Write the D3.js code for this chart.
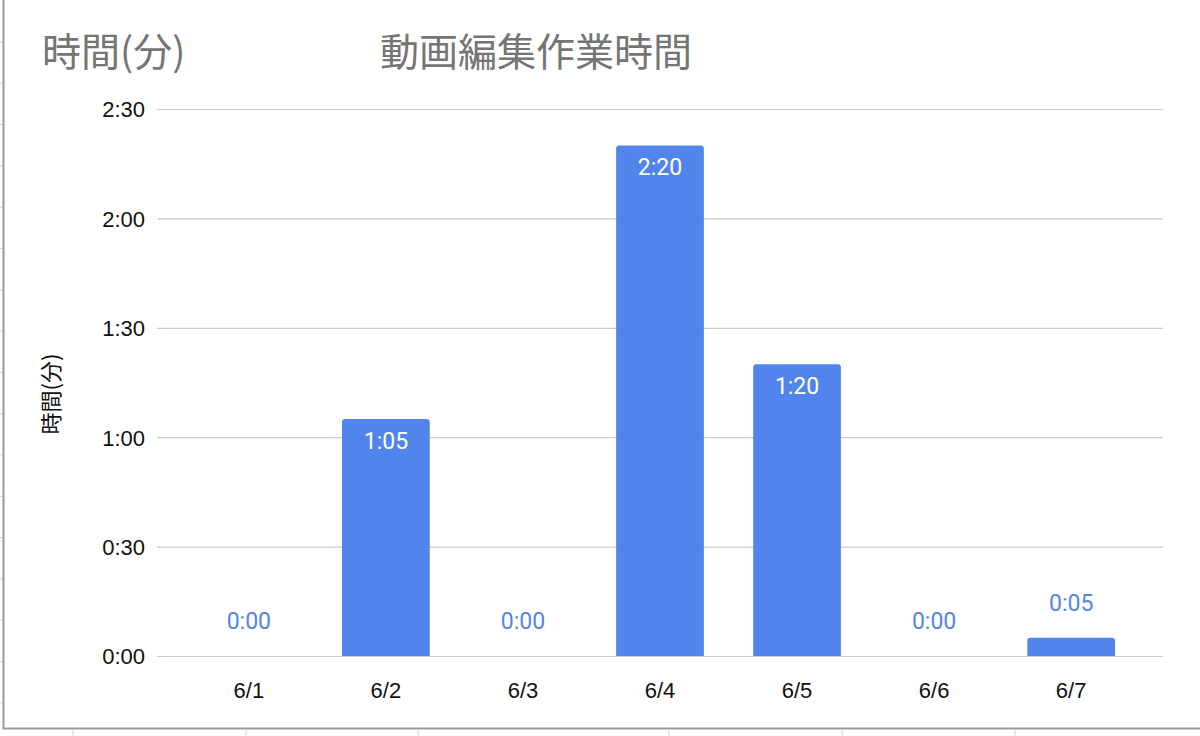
<!DOCTYPE html>
<html>
<head>
<meta charset="utf-8">
<script src="https://cdn.jsdelivr.net/npm/d3@7"></script>
<style>
  body { margin: 0; background: #fff; }
  svg { display: block; }
</style>
</head>
<body>
<div id="chart"></div>
<script>
// data: minutes of video editing per day
var days = ["6/1", "6/2", "6/3", "6/4", "6/5", "6/6", "6/7"]
var minutes = [0, 65, 0, 140, 80, 0, 5]
var tickValues = [0, 30, 60, 90, 120, 150]
var tickLabels = ["0:00", "0:30", "1:00", "1:30", "2:00", "2:30"]

var W = 1200, H = 736
var margin = {top: 109, right: 37, bottom: 80, left: 157}
var width = W - margin.left - margin.right,
    height = 656 - margin.top

var jp = "'Noto Sans CJK JP', 'Noto Sans', sans-serif"
var num = "'Liberation Sans', Arial, sans-serif"
var barColor = "#5185ec"

function fmt(m) {
  var h = Math.floor(m / 60), mm = m % 60
  return h + ":" + (mm < 10 ? "0" : "") + mm
}

var svg = d3.select("#chart")
  .append("svg")
    .attr("width", W)
    .attr("height", H)

// spreadsheet cell lines behind the chart
svg.append("g")
  .selectAll("line")
  .data(d3.range(42, 710, 41.3))
  .enter()
  .append("line")
    .attr("x1", 0).attr("x2", 3)
    .attr("y1", function(d){ return d }).attr("y2", function(d){ return d })
    .attr("stroke", "#d6d6d6")
svg.append("g")
  .selectAll("line")
  .data([73, 246, 418, 669, 842, 1015])
  .enter()
  .append("line")
    .attr("x1", function(d){ return d }).attr("x2", function(d){ return d })
    .attr("y1", 730).attr("y2", H)
    .attr("stroke", "#d6d6d6")

// chart frame
svg.append("path")
  .attr("d", "M3.5,0 V728.5 H" + W)
  .attr("fill", "none")
  .attr("stroke", "#9a9a9a")
  .attr("stroke-width", 2)

var g = svg.append("g")
  .attr("transform", "translate(" + margin.left + "," + margin.top + ")")

var x = d3.scaleBand()
  .domain(days)
  .range([0, width])
  .paddingInner(0.36)
  .paddingOuter(0.35)

var y = d3.scaleLinear()
  .domain([0, 150])
  .range([height, 0])

// gridlines + y labels
var yAxis = g.append("g")
  .call(d3.axisLeft(y).tickValues(tickValues).tickSize(-width)
    .tickFormat(function(d, i){ return tickLabels[i] }))
yAxis.select(".domain").remove()
yAxis.selectAll(".tick line").attr("stroke", "#cccccc").attr("stroke-width", 1.2)
yAxis.selectAll(".tick text")
  .attr("x", -12)
  .attr("dy", "0.36em")
  .style("font-family", num)
  .style("font-size", "22px")
  .attr("fill", "#111")

// x labels
var xAxis = g.append("g")
  .attr("transform", "translate(0," + height + ")")
  .call(d3.axisBottom(x).tickSize(0))
xAxis.select(".domain").remove()
xAxis.selectAll(".tick text")
  .attr("dy", "0")
  .attr("y", 42)
  .style("font-family", num)
  .style("font-size", "22px")
  .attr("fill", "#111")

// bars, rounded top corners
function barPath(d, i) {
  var x0 = x(days[i]), w = x.bandwidth(), y0 = y(d), r = Math.min(3, (height - y0) / 2)
  if (d <= 0) return ""
  return "M" + x0 + "," + height +
    "V" + (y0 + r) + "Q" + x0 + "," + y0 + " " + (x0 + r) + "," + y0 +
    "H" + (x0 + w - r) + "Q" + (x0 + w) + "," + y0 + " " + (x0 + w) + "," + (y0 + r) +
    "V" + height + "Z"
}
g.selectAll("mybar")
  .data(minutes)
  .enter()
  .append("path")
    .attr("d", barPath)
    .attr("fill", barColor)

// value labels: inside tall bars, above short ones
g.selectAll("mylabel")
  .data(minutes)
  .enter()
  .append("text")
    .attr("x", function(d, i){ return x(days[i]) + x.bandwidth() / 2 })
    .attr("y", function(d){ return (height - y(d)) > 40 ? y(d) + 30 : y(d) - 27 })
    .attr("text-anchor", "middle")
    .style("font-family", "Roboto, sans-serif")
    .style("font-size", "23px")
    .attr("fill", function(d){ return (height - y(d)) > 40 ? "#fff" : "#5585e6" })
    .text(function(d){ return fmt(d) })

// titles
svg.append("text")
  .attr("x", 42).attr("y", 66)
  .style("font-family", jp)
  .style("font-size", "39px")
  .attr("fill", "#757575")
  .text("時間(分)")
svg.append("text")
  .attr("x", 380).attr("y", 66)
  .style("font-family", jp)
  .style("font-size", "39px")
  .attr("fill", "#757575")
  .text("動画編集作業時間")
svg.append("text")
  .attr("transform", "translate(59,394) rotate(-90)")
  .attr("text-anchor", "middle")
  .style("font-family", jp)
  .style("font-size", "22px")
  .attr("fill", "#111")
  .text("時間(分)")
</script>
</body>
</html>
